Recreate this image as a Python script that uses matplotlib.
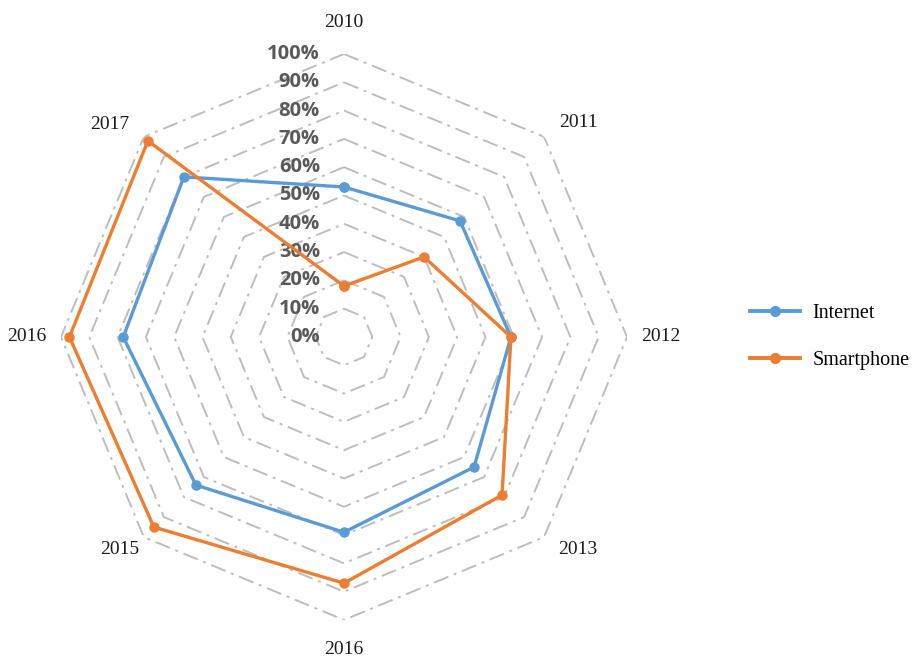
import numpy as np
import matplotlib
matplotlib.use("Agg")
import matplotlib.pyplot as plt
from matplotlib.lines import Line2D

categories = ["2010", "2011", "2012", "2013", "2016", "2015", "2016", "2017"]
internet = [53, 58, 59, 65, 69, 74, 78, 80]
smartphone = [18, 40, 59, 79, 87, 95, 97, 98]
ring_ticks = [0, 10, 20, 30, 40, 50, 60, 70, 80, 90, 100]
ring_labels = [f"{v}%" for v in ring_ticks]

blue = "#5B9BD5"
orange = "#ED7D31"
grid_col = "#BDBDBD"

fig = plt.figure(figsize=(9.18, 6.59), dpi=100)
ax = fig.add_axes([0.0664, 0.0592, 0.6166, 0.8589], projection="polar")
ax.set_theta_zero_location("N")
ax.set_theta_direction(-1)
ax.set_ylim(0, 100)
ax.set_xticks([])
ax.set_yticks([])
ax.grid(False)
ax.spines["polar"].set_visible(False)

n = len(categories)
angles = np.linspace(0, 2 * np.pi, n, endpoint=False)
closed = np.append(angles, angles[0])

# octagonal grid rings
for r in ring_ticks[1:]:
    ax.plot(closed, [r] * (n + 1), color=grid_col, lw=1.4,
            linestyle=(0, (8, 3, 1.5, 3)), zorder=1)

# radial percentage labels along the top axis
for r, lab in zip(ring_ticks, ring_labels):
    ax.annotate(lab, xy=(0, r), xytext=(-24, 0), textcoords="offset pixels",
                ha="right", va="center", fontsize=14.5, fontweight="bold",
                color="#595959", family="Open Sans", zorder=3)

# category labels around the outside, nudged a little per position
label_nudge = [(0, -2), (10, -10), (0, 0), (10, 12), (0, 4), (0, 12), (0, 0), (-10, -12)]
for a, lab, (dx, dy) in zip(angles, categories, label_nudge):
    ax.annotate(lab, xy=(a, 112), xytext=(dx, dy), textcoords="offset pixels",
                ha="center", va="center", fontsize=14, annotation_clip=False,
                family="Liberation Serif", color="#1a1a1a")

for vals, col, name in [(internet, blue, "Internet"), (smartphone, orange, "Smartphone")]:
    ax.plot(closed, vals + vals[:1], color=col, lw=2.4, marker="o",
            markersize=6.5, zorder=4, label=name)

handles = [Line2D([0], [0], color=blue, lw=2.8, marker="o", markersize=7),
           Line2D([0], [0], color=orange, lw=2.8, marker="o", markersize=7)]
fig.legend(handles, ["Internet", "Smartphone"], loc="center left",
           bbox_to_anchor=(0.817, 0.4886), frameon=False, handlelength=2.5,
           handletextpad=0.6, borderpad=0, borderaxespad=0,
           labelspacing=1.35, prop={"family": "Liberation Serif", "size": 14.5})

fig.savefig("out.png", dpi=100)
